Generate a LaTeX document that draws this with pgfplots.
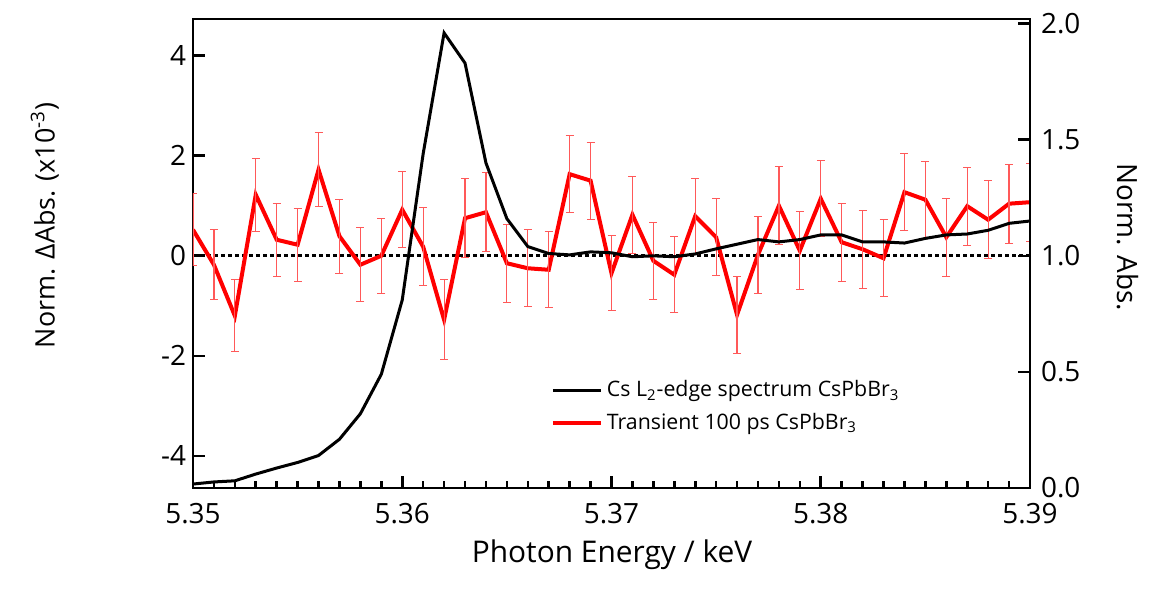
\documentclass[border=0pt]{standalone}
\usepackage{fontspec}
\setmainfont{Open Sans}
\usepackage{pgfplots}
\usepackage{pgfplotstable}
\pgfplotsset{compat=1.18}

% transient difference signal (left axis), with error
\pgfplotstableread{
x     y      err
5.350  0.52  0.72
5.351 -0.18  0.70
5.352 -1.20  0.72
5.353  1.22  0.73
5.354  0.32  0.73
5.355  0.22  0.73
5.356  1.72  0.74
5.357  0.39  0.74
5.358 -0.18  0.74
5.359  0.00  0.75
5.360  0.92  0.76
5.361  0.18  0.78
5.362 -1.28  0.80
5.363  0.75  0.79
5.364  0.87  0.79
5.365 -0.15  0.78
5.366 -0.25  0.77
5.367 -0.28  0.76
5.368  1.63  0.77
5.369  1.50  0.77
5.370 -0.35  0.75
5.371  0.82  0.77
5.372 -0.10  0.77
5.373 -0.38  0.76
5.374  0.79  0.76
5.375  0.37  0.77
5.376 -1.18  0.77
5.377  0.02  0.77
5.378  1.00  0.78
5.379  0.10  0.78
5.380  1.14  0.76
5.381  0.27  0.78
5.382  0.13  0.78
5.383 -0.05  0.77
5.384  1.27  0.77
5.385  1.12  0.77
5.386  0.37  0.78
5.387  0.99  0.78
5.388  0.72  0.78
5.389  1.04  0.79
5.390  1.07  0.78
}\transient

% ground state edge spectrum (right axis)
\pgfplotstableread{
x     y
5.350 0.017
5.351 0.026
5.352 0.031
5.353 0.060
5.354 0.086
5.355 0.110
5.356 0.140
5.357 0.210
5.358 0.320
5.359 0.490
5.360 0.810
5.361 1.440
5.362 1.960
5.363 1.830
5.364 1.400
5.365 1.160
5.366 1.040
5.367 1.010
5.368 1.004
5.369 1.017
5.370 1.013
5.371 0.996
5.372 1.000
5.373 0.996
5.374 1.008
5.375 1.030
5.376 1.050
5.377 1.070
5.378 1.060
5.379 1.070
5.380 1.090
5.381 1.090
5.382 1.060
5.383 1.060
5.384 1.055
5.385 1.075
5.386 1.090
5.387 1.094
5.388 1.110
5.389 1.140
5.390 1.150
}\edge

\begin{document}
\begin{tikzpicture}
\begin{axis}[
  at={(0,0)}, anchor=south west,
  scale only axis, width=418.5bp, height=234.5bp,
  xmin=5.35, xmax=5.39,
  ymin=-4.64, ymax=4.73,
  font=\fontsize{14}{16}\selectfont,
  axis line style={line width=1.4bp},
  ytick={-4,-2,0,2,4},
  xtick={5.35,5.36,5.37,5.38,5.39},
  minor x tick num=9,
  xtick pos=bottom, ytick pos=left,
  major tick length=6bp, minor tick length=3.5bp,
  xtick style={black, line width=1.3bp},
  ytick style={black, line width=1.3bp},
  xticklabel style={yshift=-4bp, /pgf/number format/.cd, fixed, fixed zerofill, precision=2, assume math mode=true},
  yticklabel style={/pgf/number format/assume math mode=true},
  xlabel={Photon Energy / keV},
  xlabel style={at={(axis description cs:0.5006,-0.143)}, anchor=center, font=\fontsize{15}{17}\selectfont},
  ylabel={Norm. ΔAbs. (x10\textsuperscript{-3})},
  ylabel style={at={(axis description cs:-0.177,0.56)}, anchor=center, font=\fontsize{13.5}{16}\selectfont},
]
\addplot[black, line width=1.5bp, dash pattern=on 2bp off 1.5bp] coordinates {(5.35,0) (5.39,0)};
\addplot[red, line width=2bp,
  error bars/.cd, y dir=both, y explicit,
  error bar style={red!65, line width=0.6bp},
  error mark options={red!65, line width=0.6bp, mark size=2bp, rotate=90}]
  table[x=x, y=y, y error=err] {\transient};
\end{axis}

\begin{axis}[
  at={(0,0)}, anchor=south west,
  scale only axis, width=418.5bp, height=234.5bp,
  xmin=5.35, xmax=5.39,
  ymin=0, ymax=2.02,
  font=\fontsize{14}{16}\selectfont,
  axis line style={line width=1.4bp},
  axis x line=none, axis y line*=right,
  ytick={0,0.5,1,1.5,2},
  major tick length=6bp,
  ytick style={black, line width=1.3bp},
  yticklabel style={xshift=2bp, /pgf/number format/.cd, fixed, fixed zerofill, precision=1, assume math mode=true},
  ylabel={Norm. Abs.},
  ylabel style={at={(axis description cs:1.117,0.535)}, anchor=center, rotate=180},
  legend style={at={(axis description cs:0.42,0.247)}, anchor=north west,
    draw=none, fill=none, font=\fontsize{10.7}{12}\selectfont, row sep=2.7bp},
  legend cell align=left,
  legend image code/.code={\draw[#1] (0bp,0bp) -- (24bp,0bp);},
]
\addplot[black, line width=1.5bp] table[x=x, y=y] {\edge};
\addlegendentry{Cs L\textsubscript{2}-edge spectrum CsPbBr\textsubscript{3}}
\addlegendimage{red, line width=2bp}
\addlegendentry{Transient 100 ps CsPbBr\textsubscript{3}}
\end{axis}
\path[use as bounding box] (-96.5bp,-51bp) rectangle (478bp,244bp);
\end{tikzpicture}
\end{document}
